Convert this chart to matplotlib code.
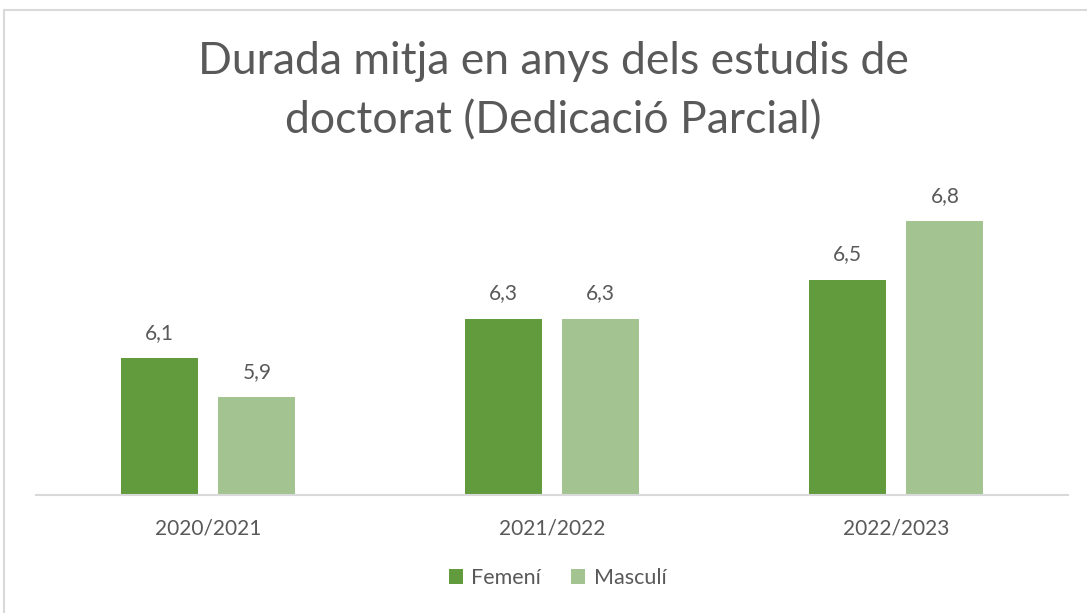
import matplotlib
matplotlib.use('Agg')
import matplotlib.pyplot as plt
from matplotlib.patches import Rectangle
import numpy as np

# Dades
cursos = ['2020/2021', '2021/2022', '2022/2023']
femeni = [6.1, 6.3, 6.5]
masculi = [5.9, 6.3, 6.8]

plt.rcParams['font.family'] = ['Lato', 'DejaVu Sans']
text_color = '#595959'
dark_green = '#629A3E'
light_green = '#A3C490'

fig = plt.figure(figsize=(10.87, 6.13), dpi=100)
ax = fig.add_axes([0.0331, 0.1925, 0.9494, 0.522])

x = np.arange(len(cursos))
w = 0.224
b1 = ax.bar(x - 0.142, femeni, w, color=dark_green, label='Femení')
b2 = ax.bar(x + 0.142, masculi, w, color=light_green, label='Masculí')
ax.set_ylim(5.40, 7.035)
ax.set_xlim(-0.5, 2.5)

for bars in (b1, b2):
    for r in bars:
        ax.annotate(f'{r.get_height():.1f}'.replace('.', ','),
                    (r.get_x() + r.get_width() / 2, r.get_height()),
                    xytext=(0, 11), textcoords='offset points',
                    ha='center', va='bottom', fontsize=15, color=text_color)

ax.set_xticks(x)
ax.set_xticklabels(cursos, fontsize=15, color=text_color)
ax.tick_params(axis='x', length=0, pad=17)
ax.set_yticks([])
for s in ['top', 'right', 'left']:
    ax.spines[s].set_visible(False)
ax.spines['bottom'].set_color('#D9D9D9')
ax.spines['bottom'].set_linewidth(1.5)

fig.text(0.509, 0.851, 'Durada mitja en anys dels estudis de\ndoctorat (Dedicació Parcial)',
         ha='center', va='center', fontsize=32, color=text_color, linespacing=1.55)

fig.legend(handles=[b1, b2], loc='center', bbox_to_anchor=(0.513, 0.057), ncol=2,
           frameon=False, fontsize=15.5, handlelength=0.65, handleheight=0.65,
           handletextpad=0.4, columnspacing=1.4, labelcolor=text_color)

fig.patches.append(Rectangle((0.0037, -0.01), 1.02, 0.9937, transform=fig.transFigure,
                             fill=False, edgecolor='#D9D9D9', linewidth=1.5))

fig.savefig('out.png', dpi=100)
